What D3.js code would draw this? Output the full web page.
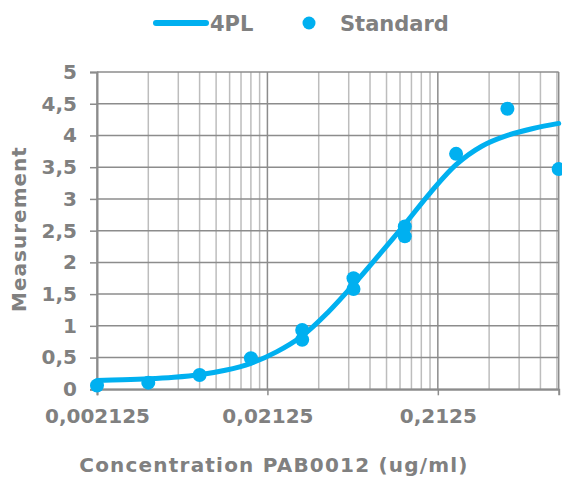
<!DOCTYPE html>
<html>
<head>
<meta charset="utf-8">
<script src="https://cdn.jsdelivr.net/npm/d3@7"></script>
<style>
  body { margin: 0; background: #fff; }
  text { font-family: "DejaVu Sans", Verdana, sans-serif; font-weight: bold; fill: #808080; }
</style>
</head>
<body>
<svg id="chart" width="562" height="479"></svg>
<script>
/************************* Data *************************/
// standard points (replicates share a concentration)
const stdConc  = [0.002125, 0.00425, 0.0085, 0.017, 0.034, 0.034, 0.068, 0.068,
                  0.136, 0.136, 0.272, 0.544, 1.088];
const stdValue = [0.06, 0.105, 0.225, 0.49, 0.935, 0.78, 1.75, 1.58,
                  2.565, 2.41, 3.71, 4.42, 3.47];

// fitted 4PL curve at half-dilution steps
const curveConc  = [0.002125, 0.003005, 0.00425, 0.00601, 0.0085, 0.01202, 0.017,
                    0.02404, 0.034, 0.04808, 0.068, 0.09617, 0.136, 0.1923, 0.272,
                    0.3847, 0.544, 0.7693, 1.088];
const curveValue = [0.14, 0.15, 0.165, 0.19, 0.23, 0.30, 0.41, 0.59, 0.84, 1.21,
                    1.65, 2.12, 2.60, 3.10, 3.54, 3.83, 4.00, 4.11, 4.19];

const xTickValues = [0.002125, 0.02125, 0.2125];
const xTickLabels = ["0,002125", "0,02125", "0,2125"];
const yTickValues = [0, 0.5, 1, 1.5, 2, 2.5, 3, 3.5, 4, 4.5, 5];
const yTickLabels = ["0", "0,5", "1", "1,5", "2", "2,5", "3", "3,5", "4", "4,5", "5"];

/************************* Setup *************************/
const BLUE = "#00b0f0";
const svg = d3.select("#chart");

const x = d3.scaleLog().domain([0.002125, 1.088]).range([97, 558.7]);
const y = d3.scaleLinear().domain([0, 5]).range([389.3, 72]);

// minor gridlines: k * decade for k = 2..9
const minor = [];
xTickValues.forEach(base => {
  for (let k = 2; k <= 9; k++) {
    const v = base * k;
    if (v < x.domain()[1]) minor.push(v);
  }
});

/************************* Grid *************************/
svg.append("g").selectAll("line").data(minor).join("line")
  .attr("x1", d => x(d)).attr("x2", d => x(d))
  .attr("y1", y(0)).attr("y2", y(5))
  .attr("stroke", "#bdbdbd").attr("stroke-width", 1.5);

svg.append("g").selectAll("line").data(yTickValues).join("line")
  .attr("x1", x.range()[0]).attr("x2", x.range()[1])
  .attr("y1", d => y(d)).attr("y2", d => y(d))
  .attr("stroke", "#8c8c8c").attr("stroke-width", 1.5);

svg.append("g").selectAll("line").data(xTickValues).join("line")
  .attr("x1", d => x(d)).attr("x2", d => x(d))
  .attr("y1", y(0)).attr("y2", y(5))
  .attr("stroke", "#8c8c8c").attr("stroke-width", 1.5);

// right border
svg.append("line")
  .attr("x1", x.range()[1]).attr("x2", x.range()[1])
  .attr("y1", y(0)).attr("y2", y(5))
  .attr("stroke", "#8c8c8c").attr("stroke-width", 1.5);

/************************* Axes *************************/
const xAxis = svg.append("g")
  .attr("transform", `translate(0,${y(0)})`)
  .call(d3.axisBottom(x).tickValues(xTickValues)
    .tickFormat((d, i) => xTickLabels[i]).tickSize(6).tickPadding(14));
const yAxis = svg.append("g")
  .attr("transform", `translate(${x.range()[0]},0)`)
  .call(d3.axisLeft(y).tickValues(yTickValues)
    .tickFormat((d, i) => yTickLabels[i]).tickSize(7).tickPadding(13));

[xAxis, yAxis].forEach(ax => {
  ax.select(".domain").attr("stroke", "#8c8c8c").attr("stroke-width", 2);
  ax.selectAll(".tick line").attr("stroke", "#8c8c8c").attr("stroke-width", 1.5);
  ax.selectAll(".tick text")
    .style("font-family", '"DejaVu Sans", Verdana, sans-serif')
    .style("font-weight", "bold").style("font-size", "20px")
    .attr("fill", "#808080");
});

/************************* Series *************************/
const line = d3.line()
  .x((d, i) => x(curveConc[i]))
  .y(d => y(d))
  .curve(d3.curveCatmullRom);

svg.append("path")
  .datum(curveValue)
  .attr("d", line)
  .attr("fill", "none")
  .attr("stroke", BLUE)
  .attr("stroke-width", 5)
  .attr("stroke-linecap", "round");

svg.append("g").selectAll("circle").data(stdValue).join("circle")
  .attr("cx", (d, i) => x(stdConc[i]))
  .attr("cy", d => y(d))
  .attr("r", 7)
  .attr("fill", BLUE);

/************************* Titles & legend *************************/
svg.append("text")
  .attr("x", 274).attr("y", 472)
  .attr("text-anchor", "middle")
  .style("font-size", "20px").style("letter-spacing", "1.2px")
  .text("Concentration PAB0012 (ug/ml)");

svg.append("text")
  .attr("transform", "translate(26,229) rotate(-90)")
  .attr("text-anchor", "middle")
  .style("font-size", "20px").style("letter-spacing", "1px")
  .text("Measurement");

const legend = svg.append("g");
legend.append("line")
  .attr("x1", 156).attr("x2", 206).attr("y1", 23).attr("y2", 23)
  .attr("stroke", BLUE).attr("stroke-width", 6).attr("stroke-linecap", "round");
legend.append("text")
  .attr("x", 210).attr("y", 31)
  .style("font-size", "21px")
  .text("4PL");
legend.append("circle")
  .attr("cx", 309).attr("cy", 23).attr("r", 6.5).attr("fill", BLUE);
legend.append("text")
  .attr("x", 340).attr("y", 31)
  .style("font-size", "21px")
  .text("Standard");
</script>
</body>
</html>
